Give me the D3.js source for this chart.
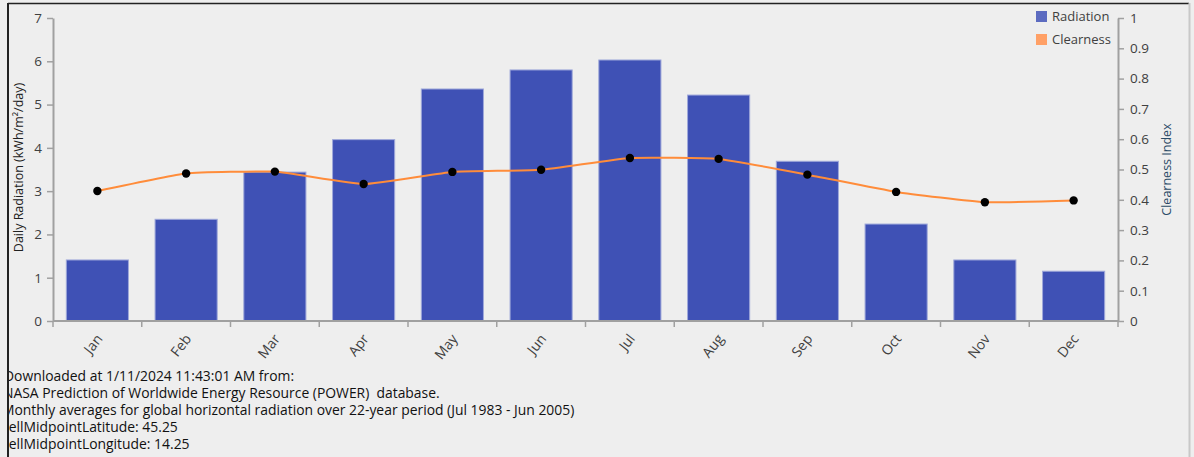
<!DOCTYPE html>
<html><head><meta charset="utf-8">
<script src="https://cdn.jsdelivr.net/npm/d3@7"></script>
<style>
html,body{margin:0;padding:0;background:#eeeeee;}
svg{display:block;font-family:"Open Sans","Noto Sans",sans-serif;}
</style></head>
<body><svg id="c" width="1194" height="457"></svg>
<script>
const months = ["Jan","Feb","Mar","Apr","May","Jun","Jul","Aug","Sep","Oct","Nov","Dec"];
const radiation = [1.41, 2.35, 3.44, 4.19, 5.36, 5.80, 6.03, 5.22, 3.69, 2.24, 1.41, 1.15];
const clearness = [0.429, 0.487, 0.493, 0.452, 0.492, 0.499, 0.538, 0.535, 0.483, 0.426, 0.392, 0.398];
const leftTicks = [0,1,2,3,4,5,6,7];
const rightTicks = [0,0.1,0.2,0.3,0.4,0.5,0.6,0.7,0.8,0.9,1];
const legendItems = ["Radiation","Clearness"];
const notes = [
  "Downloaded at 1/11/2024 11:43:01 AM from:",
  "NASA Prediction of Worldwide Energy Resource (POWER)  database.",
  "Monthly averages for global horizontal radiation over 22-year period (Jul 1983 - Jun 2005)",
  "CellMidpointLatitude: 45.25",
  "CellMidpointLongitude: 14.25"
];
const noteX = [4, 3, 2, 0, 0];

const svg = d3.select("#c");
const W = 1194, H = 457;
svg.append("rect").attr("width",W).attr("height",H).attr("fill","#eeeeee");

const L = 53, R = 1118, T = 18, B = 321;
const x = d3.scaleBand().domain(months).range([L,R]).paddingInner(0.3).paddingOuter(0.15);
const yL = d3.scaleLinear().domain([0,7]).range([B,T]);
const yR = d3.scaleLinear().domain([0,1]).range([B,T]);

const axisCol = "#a0a0a0", txtCol = "#404040";

// bars
svg.append("g").selectAll("rect").data(radiation).join("rect")
  .attr("x",(d,i)=>x(months[i])).attr("width",x.bandwidth())
  .attr("y",d=>yL(d)).attr("height",d=>B-yL(d))
  .attr("fill","#3f51b5").attr("stroke","#9fa8da").attr("stroke-width",1);

// axes
function styleAxis(g){
  g.selectAll(".domain").attr("stroke",axisCol).attr("stroke-width",2);
  g.selectAll(".tick line").attr("stroke",axisCol).attr("stroke-width",1.5);
  g.selectAll(".tick text").attr("fill",txtCol).style("font-size","13.5px").style("font-family",'"Open Sans","Noto Sans",sans-serif');
}
const gL = svg.append("g").attr("transform",`translate(${L},0)`)
  .call(d3.axisLeft(yL).tickValues(leftTicks).tickSize(6).tickPadding(5).tickSizeOuter(0).tickFormat(d3.format("d")));
styleAxis(gL);
const gR = svg.append("g").attr("transform",`translate(${R},0)`)
  .call(d3.axisRight(yR).tickValues(rightTicks).tickSize(6).tickPadding(6).tickSizeOuter(0).tickFormat(d=>String(+d.toFixed(1))));
styleAxis(gR);

// x axis with ticks at band boundaries
const gX = svg.append("g");
gX.append("line").attr("x1",L).attr("x2",R).attr("y1",B).attr("y2",B).attr("stroke",axisCol).attr("stroke-width",2);
const bounds = d3.range(13).map(i => L + i*(R-L)/12);
gX.selectAll("line.t").data(bounds).join("line").attr("class","t")
  .attr("x1",d=>d).attr("x2",d=>d).attr("y1",B).attr("y2",B+6).attr("stroke",axisCol).attr("stroke-width",1.5);
gX.selectAll("text").data(months).join("text")
  .attr("transform",d=>`translate(${x(d)+x.bandwidth()/2+2},${B+15}) rotate(-52)`)
  .attr("text-anchor","end").attr("dy","0.35em")
  .attr("fill",txtCol).style("font-size","14px").text(d=>d);

// axis titles
svg.append("text").attr("transform",`translate(23,${(T+B)/2-2}) rotate(-90)`)
  .attr("text-anchor","middle").attr("fill","#202020").style("font-size","12.5px")
  .text("Daily Radiation (kWh/m²/day)");
svg.append("text").attr("transform",`translate(1171,${(T+B)/2}) rotate(-90)`)
  .attr("text-anchor","middle").attr("fill","#2a4a66").style("font-size","12.5px")
  .text("Clearness Index");

// line
const cx = (d,i)=>x(months[i])+x.bandwidth()/2;
const line = d3.line().x(cx).y(d=>yR(d)).curve(d3.curveCardinal.tension(0.6));
svg.append("path").datum(clearness).attr("d",line)
  .attr("fill","none").attr("stroke","#ff8c3a").attr("stroke-width",2);
svg.append("g").selectAll("circle").data(clearness).join("circle")
  .attr("cx",cx).attr("cy",d=>yR(d)).attr("r",4.2).attr("fill","#000");

// legend
const legCols = ["#5c6bc0","#ffa066"];
const lg = svg.append("g").selectAll("g").data(legendItems).join("g")
  .attr("transform",(d,i)=>`translate(1036,${11+i*23})`);
lg.append("rect").attr("width",11).attr("height",11).attr("fill",(d,i)=>legCols[i]);
lg.append("text").attr("x",16).attr("y",10).attr("fill",txtCol).style("font-size","13px").text(d=>d);

// notes (clipped by left border, as in the reference)
svg.append("clipPath").attr("id","nclip").append("rect").attr("x",9).attr("y",0).attr("width",W).attr("height",H);
svg.append("g").attr("clip-path","url(#nclip)").selectAll("text").data(notes).join("text")
  .attr("x",(d,i)=>noteX[i])
  .attr("y",(d,i)=>381+i*17)
  .style("white-space","pre")
  .attr("fill","#111").style("font-size","13.9px").text(d=>d);

// borders
svg.append("line").attr("x1",8).attr("x2",1189).attr("y1",3.5).attr("y2",3.5).attr("stroke","#222").attr("stroke-width",1.5);
svg.append("line").attr("x1",8).attr("x2",8).attr("y1",3).attr("y2",H).attr("stroke","#222").attr("stroke-width",2);
svg.append("line").attr("x1",1189.5).attr("x2",1189.5).attr("y1",3).attr("y2",H).attr("stroke","#c8c8c8").attr("stroke-width",2);
</script></body></html>
